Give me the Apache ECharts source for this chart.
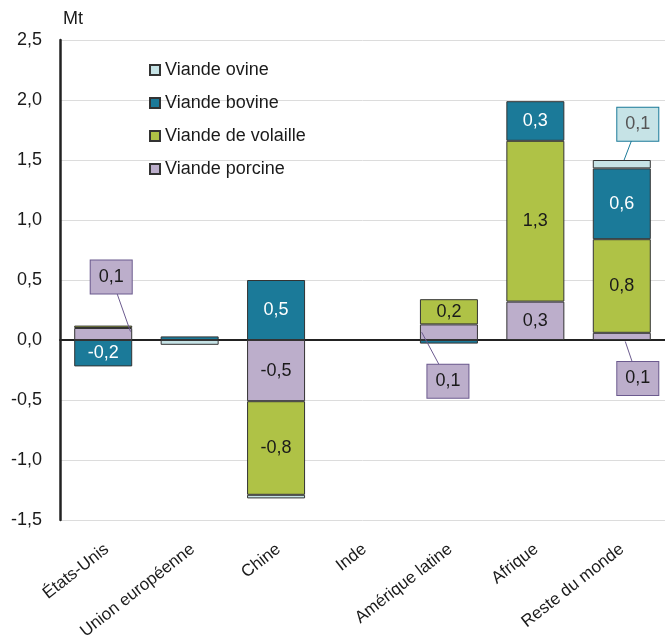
<!DOCTYPE html>
<html>
<head>
<meta charset="utf-8">
<script src="https://cdn.jsdelivr.net/npm/echarts@6/dist/echarts.min.js"></script>
<style>
html, body { margin: 0; background: #fff; }
#chart { width: 665px; height: 642px; }
</style>
</head>
<body>
<div id="chart"></div>
<script>
// data (Mt)
const categories = ['États-Unis', 'Union européenne', 'Chine', 'Inde', 'Amérique latine', 'Afrique', 'Reste du monde'];
const porcine  = [0.10, 0, -0.51, 0, 0.13, 0.32, 0.06];
const volaille = [0.02, 0, -0.78, 0, 0.21, 1.34, 0.78];
const bovine   = [-0.22, 0.03, 0.50, 0, -0.03, 0.33, 0.59];
const ovine    = [0, -0.04, -0.03, 0, 0, 0, 0.07];
const legendOrder = ['Viande ovine', 'Viande bovine', 'Viande de volaille', 'Viande porcine'];

const font = '"Liberation Sans", Arial, sans-serif';
const fmt = v => v.toFixed(1).replace('.', ',');
const barWidth = 58;

const seriesValues = {
    'Viande porcine': porcine,
    'Viande de volaille': volaille,
    'Viande bovine': bovine,
    'Viande ovine': ovine
};
const stackOrder = ['Viande porcine', 'Viande de volaille', 'Viande bovine', 'Viande ovine'];

// boxed labels for thin segments
// dx/dy: box centre from segment centre, to: where the line meets the segment (fraction of its box)
const callouts = [
    { series: 'Viande porcine', index: 0, dx: 8, dy: -57, to: [0.97, 0.3] },
    { series: 'Viande porcine', index: 4, dx: -1, dy: 49, to: [0.03, 0.5] },
    { series: 'Viande porcine', index: 6, dx: 16, dy: 42, to: [0.56, 1.2] },
    { series: 'Viande ovine', index: 6, dx: 16, dy: -40, to: [0.54, 0] }
];

const styles = {
    'Viande porcine':     { color: '#bcaecb', text: '#1a1a1a', boxBorder: '#6b5a8e', boxText: '#1a1a1a' },
    'Viande de volaille': { color: '#afc246', text: '#1a1a1a' },
    'Viande bovine':      { color: '#1b7a99', text: '#ffffff' },
    'Viande ovine':       { color: '#c6e3e6', text: '#555555', boxBorder: '#1b7a99', boxText: '#555555' }
};

// sum of the same-sign segments below this one
const stackBase = (name, i) => {
    const v = seriesValues[name][i];
    let b = 0;
    for (const n of stackOrder) {
        if (n === name) break;
        const w = seriesValues[n][i];
        if (w * v > 0) b += w;
    }
    return b;
};

const isCallout = (name, i) => callouts.some(c => c.series === name && c.index === i);

const makeSeries = name => {
    const st = styles[name];
    return {
        name: name,
        type: 'bar',
        stack: 'total',
        barWidth: barWidth,
        itemStyle: { color: st.color, borderColor: '#333', borderWidth: 1 },
        data: seriesValues[name].map((v, i) => {
            if (v === 0) return '-';
            const item = { value: v };
            if (Math.abs(v) >= 0.15 && !isCallout(name, i)) {
                item.label = {
                    show: true, position: 'inside',
                    formatter: p => fmt(p.value),
                    color: st.text, fontSize: 18, fontFamily: font
                };
            }
            return item;
        })
    };
};

const calloutSeries = {
    type: 'custom',
    name: 'callouts',
    xAxisIndex: 0,
    yAxisIndex: 0,
    z: 10,
    silent: true,
    data: callouts.map(c => {
        const b = stackBase(c.series, c.index);
        return [c.index, b, b + seriesValues[c.series][c.index]];
    }),
    renderItem: function (params, api) {
        const c = callouts[params.dataIndex];
        const st = styles[c.series];
        const p0 = api.coord([api.value(0), api.value(1)]);
        const p1 = api.coord([api.value(0), api.value(2)]);
        const top = Math.min(p0[1], p1[1]);
        const h = Math.abs(p0[1] - p1[1]);
        const x0 = p0[0] - barWidth / 2;
        const lx = p0[0] + c.dx, ly = top + h / 2 + c.dy;
        const ex = x0 + barWidth * c.to[0], ey = top + h * c.to[1];
        return {
            type: 'group',
            children: [
                { type: 'line', shape: { x1: lx, y1: ly, x2: ex, y2: ey }, style: { stroke: st.boxBorder, lineWidth: 1 } },
                {
                    type: 'text', x: lx, y: ly,
                    style: {
                        text: fmt(api.value(2) - api.value(1)),
                        fill: st.boxText, fontSize: 18, fontFamily: font,
                        align: 'center', verticalAlign: 'middle',
                        backgroundColor: st.color, borderColor: st.boxBorder, borderWidth: 1,
                        padding: [8, 8, 7, 8]
                    }
                }
            ]
        };
    }
};

const chart = echarts.init(document.getElementById('chart'));
chart.setOption({
    animation: false,
    textStyle: { fontFamily: font },
    legend: {
        data: legendOrder,
        orient: 'vertical',
        left: 144,
        top: 56,
        icon: 'rect',
        itemWidth: 10,
        itemHeight: 10,
        itemGap: 15,
        textStyle: { fontSize: 18, color: '#1a1a1a', fontFamily: font }
    },
    grid: [
        { left: 60, right: 0, top: 40, bottom: 122 },
        { left: 64, width: 605, top: 40, bottom: 122 }
    ],
    xAxis: [
        {
            type: 'category',
            data: categories,
            gridIndex: 0,
            axisLine: { onZero: true, lineStyle: { color: '#222', width: 2 } },
            axisTick: { show: false },
            axisLabel: { show: false }
        },
        {
            // labels only, nudged right like the original
            type: 'category',
            data: categories,
            gridIndex: 1,
            position: 'bottom',
            axisLine: { show: false, onZero: false },
            axisTick: { show: false },
            axisLabel: { rotate: 38, margin: 35, fontSize: 17, color: '#1a1a1a', fontFamily: font, interval: 0 }
        }
    ],
    yAxis: [
        {
            type: 'value',
            gridIndex: 0,
            min: -1.5,
            max: 2.5,
            interval: 0.5,
            name: 'Mt',
            nameGap: 12,
            nameTextStyle: { align: 'left', fontSize: 18, color: '#1a1a1a', fontFamily: font, padding: [0, 0, 0, 3] },
            axisLine: { show: true, lineStyle: { color: '#222', width: 2.5 } },
            axisTick: { show: false },
            axisLabel: { formatter: fmt, fontSize: 18, color: '#1a1a1a', margin: 18, fontFamily: font },
            splitLine: { lineStyle: { color: '#dcdcdc', width: 1 } }
        },
        { type: 'value', gridIndex: 1, min: 0, max: 1, show: false }
    ],
    series: [
        makeSeries('Viande porcine'),
        makeSeries('Viande de volaille'),
        makeSeries('Viande bovine'),
        makeSeries('Viande ovine'),
        calloutSeries
    ]
});
</script>
</body>
</html>
